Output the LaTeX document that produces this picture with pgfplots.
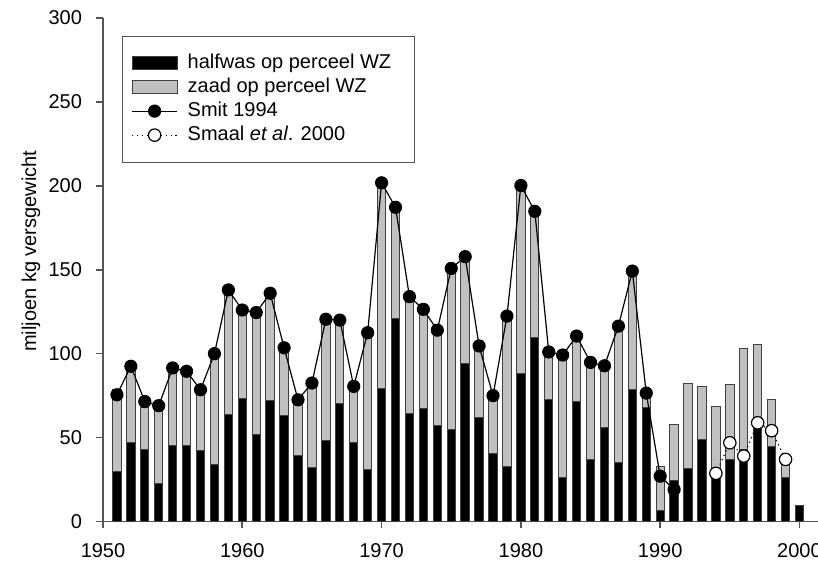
\documentclass[border=0pt]{standalone}
\usepackage{fontspec}
\setmainfont{Liberation Sans}
\usepackage{pgfplots}
\pgfplotsset{compat=1.18}
\usepackage{pgfplotstable}

\definecolor{zaadgray}{HTML}{C0C0C0}
\definecolor{edgegray}{HTML}{404040}
\definecolor{axgray}{HTML}{555555}

\pgfplotsset{
  barlegend/.style={legend image code/.code={%
    \draw[##1, line width=0.5pt] (0pt,-3.25pt) rectangle (22.5pt,3.25pt);}},
  linelegend/.style={legend image code/.code={%
    \draw[mark repeat=2, mark phase=2, ##1] plot coordinates {(0pt,0pt) (11.25pt,0pt) (22.5pt,0pt)};}},
}

% halfwas (black) and zaad (grey) per year, stacked
\pgfplotstableread{
year halfwas zaad
1951 30.0 48.5
1952 47.0 43.0
1953 43.0 25.0
1954 22.5 44.0
1955 45.0 44.0
1956 45.0 42.0
1957 42.5 33.5
1958 34.0 63.5
1959 64.0 72.0
1960 73.0 50.5
1961 51.7 70.3
1962 71.8 61.7
1963 63.0 38.0
1964 39.4 30.6
1965 32.3 47.7
1966 48.0 70.0
1967 70.6 46.9
1968 47.1 30.9
1969 30.9 79.1
1970 79.2 120.8
1971 120.8 64.2
1972 64.4 67.1
1973 67.5 56.5
1974 57.0 54.5
1975 54.9 93.6
1976 94.1 61.4
1977 62.0 40.0
1978 40.6 31.9
1979 32.7 87.3
1980 88.1 109.9
1981 109.9 72.6
1982 72.7 25.8
1983 26.3 70.7
1984 71.5 36.5
1985 36.8 55.7
1986 55.9 34.6
1987 35.1 78.9
1988 78.8 68.2
1989 68.0 6.0
1990 6.5 26.2
1991 24.4 33.4
1992 31.5 50.9
1993 48.7 31.9
1994 29.0 39.7
1995 36.8 44.6
1996 43.0 60.2
1997 57.0 48.6
1998 44.8 28.1
1999 26.3 10.2
2000 9.5 0.0
}\bars

\pgfplotstableread{
year smit
1951 75.5
1952 92.5
1953 71.5
1954 69.0
1955 91.5
1956 89.5
1957 78.5
1958 100.0
1959 138.0
1960 126.0
1961 124.5
1962 136.0
1963 103.5
1964 72.5
1965 82.5
1966 120.5
1967 120.0
1968 80.5
1969 112.5
1970 201.8
1971 187.2
1972 134.0
1973 126.4
1974 114.0
1975 150.8
1976 157.8
1977 104.6
1978 75.0
1979 122.4
1980 200.2
1981 184.8
1982 101.0
1983 99.2
1984 110.5
1985 94.8
1986 92.8
1987 116.4
1988 149.2
1989 76.5
1990 27.0
1991 19.0
}\smit

\pgfplotstableread{
year smaal
1994 28.7
1995 46.9
1996 39.0
1997 58.8
1998 54.1
1999 37.0
}\smaal

\begin{document}
\begin{tikzpicture}[font=\fontsize{10}{12}\selectfont]
\useasboundingbox (0,0) rectangle (409pt,280.5pt);
\pgfplotsset{
  common/.style={
    width=357.5pt, height=251.75pt, scale only axis,
    xmin=1950, xmax=2001.33, ymin=0, ymax=300,
    at={(51.5pt,19.75pt)}, anchor=south west,
  }
}
\begin{axis}[
    common, name=ax,
    ybar stacked, bar width=0.6,
    axis x line=bottom, axis y line=left,
    axis line style={-, axgray, line width=0.8pt},
    tick style={axgray, line width=0.8pt},
    major tick length=3.5pt,
    tick align=outside,
    xtick={1950,1960,...,2000},
    ytick={0,50,...,300},
    minor tick num=0,
    /pgf/number format/1000 sep={},
    /pgf/number format/assume math mode=true,
    ticklabel style={font=\fontsize{10}{12}\selectfont},
    xticklabel style={yshift=-4pt},
    yticklabel style={xshift=-3.5pt},
    ylabel={miljoen kg versgewicht},
    ylabel style={at={(axis description cs:-0.1007,0.537)}, anchor=center, font=\fontsize{10}{12}\selectfont},
]
\addplot[fill=black, draw=edgegray, line width=0.5pt] table[x=year, y=halfwas] {\bars};
\addplot[fill=zaadgray, draw=edgegray, line width=0.5pt] table[x=year, y=zaad] {\bars};
\end{axis}

\begin{axis}[
    common, hide axis,
    legend cell align=left,
    legend style={
        at={(0.0266,0.965)}, anchor=north west,
        draw=axgray, line width=0.5pt,
        inner xsep=4.5pt, inner ysep=7.5pt,
        row sep=0pt, column sep=3pt,
        font=\fontsize{10}{12}\selectfont,
        nodes={inner xsep=2pt, inner ysep=0pt, text height=8.5pt, text depth=3.5pt},
    },
]
\addplot[black, line width=0.6pt, mark=*, mark size=3pt, forget plot]
    table[x=year, y=smit] {\smit};
\addplot[black, line width=0.6pt, dash pattern=on 0.6pt off 1.8pt,
    mark=*, mark size=3.1pt, mark options={solid, fill=white, draw=black}, forget plot]
    table[x=year, y=smaal] {\smaal};

\addlegendimage{barlegend, fill=black, draw=edgegray}
\addlegendentry{halfwas op perceel WZ\hspace*{5pt}}
\addlegendimage{barlegend, fill=zaadgray, draw=edgegray}
\addlegendentry{zaad op perceel WZ}
\addlegendimage{linelegend, black, line width=0.6pt, mark=*, mark size=3pt}
\addlegendentry{Smit 1994}
\addlegendimage{linelegend, black, line width=0.6pt, dash pattern=on 0.6pt off 1.8pt,
    mark=*, mark size=3.1pt, mark options={solid, fill=white, draw=black}}
\addlegendentry{Smaal \textit{et al}. 2000}
\end{axis}
\end{tikzpicture}
\end{document}
